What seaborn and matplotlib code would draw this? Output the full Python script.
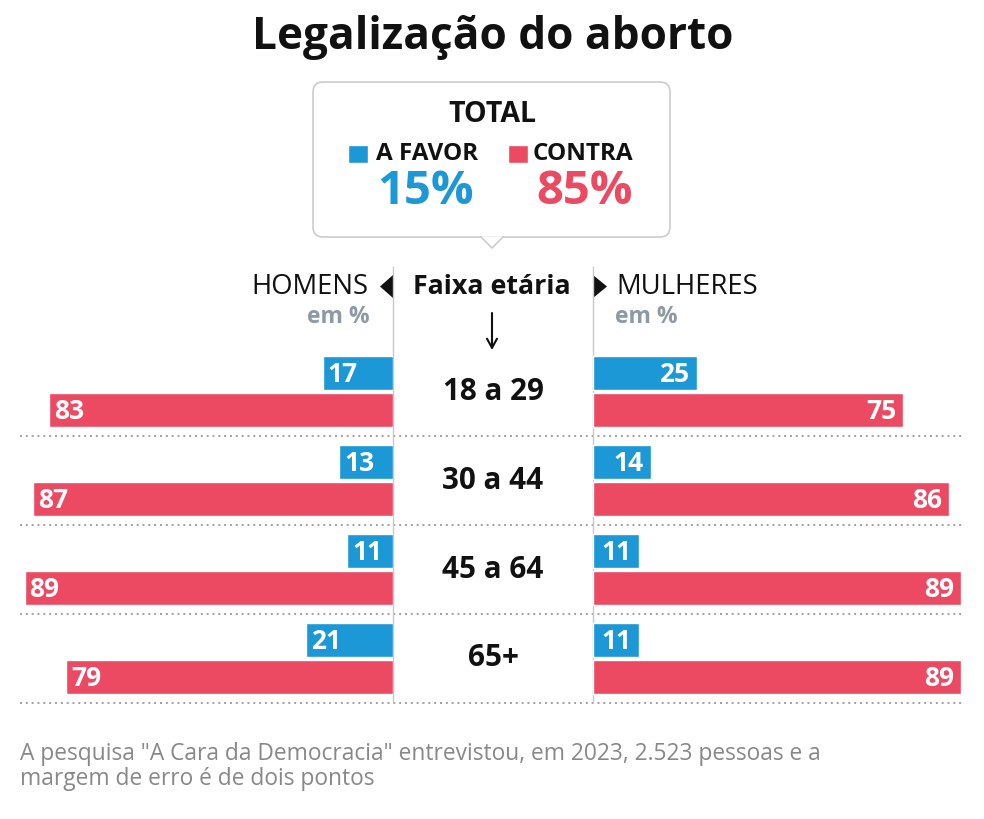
import pandas as pd
import matplotlib
matplotlib.use("Agg")
import matplotlib.pyplot as plt
import seaborn as sns
from matplotlib.patches import FancyBboxPatch, Polygon, Rectangle

# Dados
faixas = ["18 a 29", "30 a 44", "45 a 64", "65+"]
opinioes = ["A favor", "Contra"]
homens_favor = [17, 13, 11, 21]
homens_contra = [83, 87, 89, 79]
mulheres_favor = [25, 14, 11, 11]
mulheres_contra = [75, 86, 89, 89]
total_favor = 15
total_contra = 85

AZUL = "#1b98d5"
VERMELHO = "#ec4a63"
CINZA = "#8d99a5"


def montar(favor, contra):
    return pd.DataFrame({
        "faixa": faixas * 2,
        "opiniao": [opinioes[0]] * len(faixas) + [opinioes[1]] * len(faixas),
        "valor": favor + contra,
    })


df_h = montar(homens_favor, homens_contra)
df_m = montar(mulheres_favor, mulheres_contra)

sns.set_theme(style="white")
plt.rcParams["font.family"] = ["Open Sans", "DejaVu Sans"]

# Layout (pixels)
W, H = 984, 819
PX = 4.14            # pixels por ponto percentual
TOP, BOT = 347, 703  # faixa vertical das barras
L_END, R_START = 393, 593

fig = plt.figure(figsize=(W / 100, H / 100), dpi=100)
fig.patch.set_facecolor("white")

bg = fig.add_axes([0, 0, 1, 1], zorder=0)
bg.set_xlim(0, W)
bg.set_ylim(H, 0)
bg.axis("off")

y0 = (H - BOT) / H
hh = (BOT - TOP) / H
ax_c = fig.add_axes([0, y0, 1, hh], zorder=1)
ax_l = fig.add_axes([0, y0, L_END / W, hh], zorder=2)
ax_r = fig.add_axes([R_START / W, y0, (W - R_START) / W, hh], zorder=2)

# Barras
for ax, df, lado in [(ax_l, df_h, "esq"), (ax_r, df_m, "dir")]:
    sns.barplot(data=df, x="valor", y="faixa", hue="opiniao", orient="h",
                order=faixas, hue_order=opinioes, palette=[AZUL, VERMELHO],
                saturation=1, width=0.84, gap=0.08, errorbar=None,
                legend=False, ax=ax)
    ax.set_ylim(len(faixas) - 0.5, -0.5)
    ax.axis("off")
    ax.patch.set_alpha(0)
    for cont in ax.containers:
        for bar in cont:
            v = bar.get_width()
            y = bar.get_y() + bar.get_height() / 2
            if lado == "esq":
                ax.annotate(f"{v:.0f}", (v, y), xytext=(3.5, -1),
                            textcoords="offset points", ha="left", va="center",
                            color="white", fontweight="bold", fontsize=19)
            else:
                ax.annotate(f"{v:.0f}", (v, y), xytext=(-5, -1),
                            textcoords="offset points", ha="right", va="center",
                            color="white", fontweight="bold", fontsize=19)

ax_l.set_xlim(L_END / PX, 0)
ax_r.set_xlim(0, (W - R_START) / PX)

# Coluna central: separadores, faixas etárias
ax_c.set_xlim(0, W)
ax_c.set_ylim(len(faixas) - 0.5, -0.5)
ax_c.axis("off")
seps = [i + 0.5 for i in range(len(faixas))]
ax_c.hlines(seps, 20, 963, colors="#a0a0a0", linestyles=(0, (1, 2)),
            lw=1.4, clip_on=False)
top_linha = -0.5 - (TOP - 266) / ((BOT - TOP) / len(faixas))
ax_c.vlines([L_END, R_START], top_linha, len(faixas) - 0.5,
            colors="#c8c8c8", lw=1, clip_on=False)
for i, f in enumerate(faixas):
    ax_c.text(493, i, f, ha="center", va="center", fontsize=21.3,
              fontweight="bold", color="#111111")

# Titulo
bg.text(493, 37, "Legalização do aborto", ha="center", va="center",
        fontsize=31.8, fontweight="bold", color="#111111")

# Caixa do total
caixa = FancyBboxPatch((313, 82), 357, 155, boxstyle="round,pad=0,rounding_size=10",
                       facecolor="white", edgecolor="#cccccc", lw=1.2)
bg.add_patch(caixa)
bg.add_patch(Polygon([(481, 236.3), (492, 248), (503, 236.3)], closed=True,
                     facecolor="white", edgecolor="none", zorder=3))
bg.plot([481, 492, 503], [237, 248, 237], color="#cccccc", lw=1.2, zorder=4)

bg.text(492, 115, "TOTAL", ha="center", va="center", fontsize=20.5,
        fontweight="bold", color="#111111")
bg.add_patch(Rectangle((348, 145), 20, 18, facecolor=AZUL))
bg.add_patch(Rectangle((508, 145), 20, 18, facecolor=VERMELHO))
bg.text(376, 154, "A FAVOR", ha="left", va="center", fontsize=17.5,
        fontweight="bold", color="#111111")
bg.text(533, 154, "CONTRA", ha="left", va="center", fontsize=17.5,
        fontweight="bold", color="#111111")
bg.text(426, 192, f"{total_favor}%", ha="center", va="center", fontsize=34,
        fontweight="bold", color=AZUL)
bg.text(585, 192, f"{total_contra}%", ha="center", va="center", fontsize=34,
        fontweight="bold", color=VERMELHO)

# Cabecalhos
bg.text(369, 287, "HOMENS", ha="right", va="center", fontsize=19.8, color="#111111")
bg.add_patch(Polygon([(380, 286.5), (393, 275), (393, 298)], closed=True,
                     facecolor="#111111", edgecolor="none"))
bg.text(492, 287, "Faixa etária", ha="center", va="center", fontsize=19.3,
        fontweight="bold", color="#111111")
bg.add_patch(Polygon([(593, 275), (593, 298), (607, 286.5)], closed=True,
                     facecolor="#111111", edgecolor="none"))
bg.text(616, 287, "MULHERES", ha="left", va="center", fontsize=19.8, color="#111111")
bg.text(370, 317, "em %", ha="right", va="center", fontsize=16.5,
        fontweight="bold", color=CINZA)
bg.text(615, 317, "em %", ha="left", va="center", fontsize=16.5,
        fontweight="bold", color=CINZA)
bg.annotate("", xy=(492, 350), xytext=(492, 313),
            arrowprops=dict(arrowstyle="->,head_length=0.55,head_width=0.3",
                            color="#111111", lw=1.5, shrinkA=0, shrinkB=0))

# Nota
bg.text(20, 754, 'A pesquisa "A Cara da Democracia" entrevistou, em 2023, 2.523 pessoas e a',
        ha="left", va="center", fontsize=16.4, color="#888888")
bg.text(20, 779, "margem de erro é de dois pontos",
        ha="left", va="center", fontsize=16.4, color="#888888")

fig.savefig("out.png", dpi=100, facecolor="white")
